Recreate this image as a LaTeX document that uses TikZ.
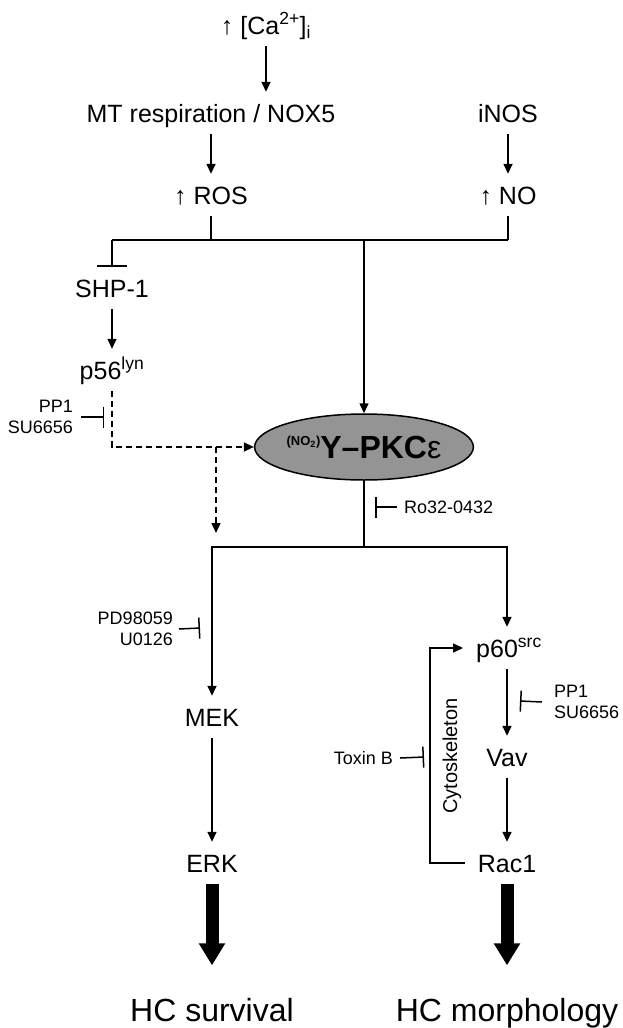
\documentclass[tikz,border=0pt]{standalone}
\usepackage{fontspec}
\setmainfont{Liberation Sans}
\usetikzlibrary{arrows.meta,shapes.geometric}
\begin{document}
\begin{tikzpicture}[x=1pt,y=-1pt,
  lbl/.style={font=\fontsize{25}{30}\selectfont, text height=18pt, text depth=0pt, inner xsep=13pt, inner ysep=12pt},
  sm/.style={font=\fontsize{18}{21}\selectfont, inner sep=0pt},
  outcome/.style={font=\fontsize{32}{36}\selectfont, text height=23pt, text depth=0pt, inner sep=0pt},
  ln/.style={line width=1.5pt},
  arr/.style={line width=1.5pt, -{Triangle[length=10pt,width=9pt]}},
  dsh/.style={dash pattern=on 6pt off 4pt},
  inh/.style={line width=1.5pt, -{Bar[width=21pt]}},
  inhw/.style={line width=1.5pt, -{Bar[width=30pt]}},
  big/.style={line width=13pt, -{Triangle[length=22pt,width=25pt]}},
  ell/.style={ellipse, draw, line width=1.5pt, fill=black!42, minimum width=184pt, minimum height=66pt, inner sep=0pt},
]
\useasboundingbox (0,0) rectangle (622,1028);

% top
\node[lbl] (ca) at (266,25) {↑ [Ca\textsuperscript{2+}]\textsubscript{i}};
\node[lbl] (mt) at (211,113) {MT respiration / NOX5};
\node[lbl] (inos) at (508,113) {iNOS};
\node[lbl] (ros) at (211,195) {↑ ROS};
\node[lbl] (no) at (508,195) {↑ NO};
\draw[arr] (ca.south) -- (ca.south |- mt.north);
\draw[arr] (mt.south) -- (ros.north);
\draw[arr] (inos.south) -- (no.north);

\coordinate (jl) at (112,240);
\coordinate (jm) at (364,240);
\coordinate (jr) at (508,240);
\draw[ln] (ros.south) -- (ros.south |- jm);
\draw[ln] (no.south) -- (jr);
\draw[ln] (jl) -- (jr);

% left column
\node[lbl] (shp) at (112,288) {SHP-1};
\node[lbl] (p56) at (112,370) {p56\textsuperscript{lyn}};
\draw[inhw] (jl) -- (shp.north);
\draw[arr] (shp.south) -- (p56.north);

% PKC
\node[ell] (pkc) at (364,447) {{\bfseries\fontsize{13}{13}\selectfont\raisebox{13pt}{(NO\textsubscript{2})}}{\bfseries\fontsize{32}{32}\selectfont Y–PKC}{\fontsize{32}{32}\selectfont ε}};
\draw[arr] (jm) -- (pkc.north);

% dashed
\coordinate (dc) at (112,447);
\coordinate (db) at (216,447);
\coordinate (dt) at (216,533);
\draw[arr,dsh] (p56.south -| dc) -- (dc) -- (pkc.west);
\draw[arr,dsh] (db) -- (dt);

\node[sm, align=right, anchor=east] (ppl) at (73,417) {PP1\\SU6656};
\coordinate (ppli) at (104,417);
\draw[inh] ([xshift=8pt]ppl.east) -- (ppli);

% Ro32
\node[sm, anchor=west] (ro) at (404,507) {Ro32-0432};
\coordinate (roi) at (375,507);
\draw[inh] ([xshift=-7pt]ro.west) -- (roi);

% split
\coordinate (sp) at (364,547);
\node[lbl] (mek) at (212,717) {MEK};
\node[lbl] (erk) at (212,863) {ERK};
\node[lbl] (vav) at (507,757) {Vav};
\node[lbl] (rac) at (507,863) {Rac1};
\node[lbl] (p60) at (509,648) {p60\textsuperscript{src}};
\draw[ln] (pkc.south) -- (sp);
\draw[arr] (sp) -| (mek.north);
\draw[arr] (sp) -| (vav.north |- p60.north);
\draw[arr] (mek.south) -- (erk.north);
\draw[arr] (p60.south -| vav) -- (vav.north);
\draw[arr] (vav.south) -- (rac.north);

% PD98059
\node[sm, align=right, anchor=east] (pd) at (173,629) {PD98059\\U0126};
\coordinate (pdi) at (200,628);
\draw[inh] ([xshift=6pt]pd.east) -- (pdi);

% PP1 right
\node[sm, align=left, anchor=west] (ppr) at (554,702) {PP1\\SU6656};
\coordinate (ppri) at (520,701);
\draw[inh] ([xshift=-12pt]ppr.west) -- (ppri);

% Cytoskeleton loop
\coordinate (cx) at (430,0);
\draw[arr] (rac.west) -- (rac.west -| cx) |- (p60.west);
\node[rotate=90, font=\fontsize{20}{24}\selectfont, inner sep=0pt] (cyto) at (452,756) {Cytoskeleton};

% Toxin B
\node[sm, anchor=east] (tox) at (393,758) {Toxin B};
\coordinate (toxi) at (424,757);
\draw[inh] ([xshift=7pt]tox.east) -- (toxi);

% outcomes
\node[outcome] (surv) at (212,1010) {HC survival};
\node[outcome] (morph) at (507,1010) {HC morphology};
\draw[big] (erk.south) -- ([yshift=33pt]surv.north);
\draw[big] (rac.south) -- ([yshift=33pt]morph.north);
\end{tikzpicture}
\end{document}
